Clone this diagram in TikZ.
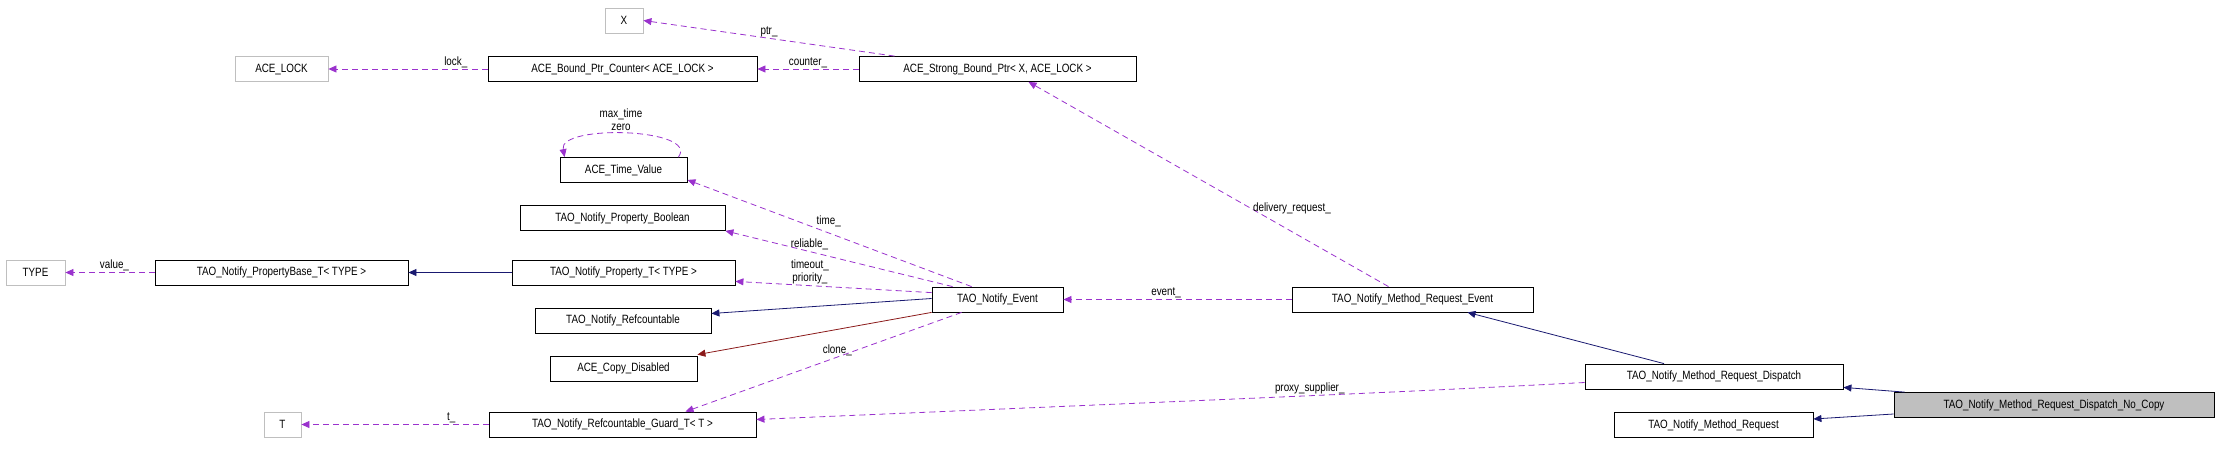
\documentclass[tikz,border=0pt]{standalone}
\usepackage{fontspec}
\setmainfont[FakeStretch=0.82]{Liberation Sans}
\usetikzlibrary{arrows.meta,calc}
\begin{document}
\begin{tikzpicture}[x=1pt,y=-1pt,
  every node/.style={font=\fontsize{12}{13}\selectfont},
  box/.style={draw=black,line width=0.8pt,inner sep=0pt,minimum height=25pt},
  gbox/.style={box,draw=black!25},
  mem/.style={draw={rgb,255:red,154;green,50;blue,205},dashed,dash pattern=on 6pt off 4pt,line width=0.8pt,-{Triangle[length=8pt,width=7pt]}},
  inh/.style={draw={rgb,255:red,25;green,25;blue,112},line width=0.8pt,-{Triangle[length=8pt,width=7pt]}},
  priv/.style={draw={rgb,255:red,139;green,26;blue,26},line width=0.8pt,-{Triangle[length=8pt,width=7pt]}},
  lbl/.style={inner sep=1pt,align=center}]
\useasboundingbox (0,0) rectangle (2216,461);
\node[gbox,minimum width=38pt] (X) at (624,20.5) {X};
\node[gbox,minimum width=93pt] (LOCK) at (281.5,69) {ACE\_LOCK};
\node[box,minimum width=269pt] (Counter) at (622.5,69) {ACE\_Bound\_Ptr\_Counter< ACE\_LOCK >};
\node[box,minimum width=277pt] (Strong) at (997.5,69) {ACE\_Strong\_Bound\_Ptr< X, ACE\_LOCK >};
\node[box,minimum width=127pt] (TV) at (623.5,170) {ACE\_Time\_Value};
\node[box,minimum width=205pt] (Bool) at (622.5,218) {TAO\_Notify\_Property\_Boolean};
\node[gbox,minimum width=59pt] (TYPE) at (35.5,272.5) {TYPE};
\node[box,minimum width=253pt] (PB) at (281.5,272.5) {TAO\_Notify\_PropertyBase\_T< TYPE >};
\node[box,minimum width=223pt] (PT) at (623.5,272.5) {TAO\_Notify\_Property\_T< TYPE >};
\node[box,minimum width=131pt] (Event) at (997.5,299.5) {TAO\_Notify\_Event};
\node[box,minimum width=176pt] (Ref) at (623,320.5) {TAO\_Notify\_Refcountable};
\node[box,minimum width=147pt] (Copy) at (623.5,368.5) {ACE\_Copy\_Disabled};
\node[gbox,minimum width=37pt] (T) at (282.5,424.5) {T};
\node[box,minimum width=267pt] (Guard) at (622.5,424.5) {TAO\_Notify\_Refcountable\_Guard\_T< T >};
\node[box,minimum width=241pt] (MRE) at (1412.5,299.5) {TAO\_Notify\_Method\_Request\_Event};
\node[box,minimum width=258pt] (Disp) at (1714,376.5) {TAO\_Notify\_Method\_Request\_Dispatch};
\node[box,minimum width=320pt,fill=black!25] (NoCopy) at (2054,405) {TAO\_Notify\_Method\_Request\_Dispatch\_No\_Copy};
\node[box,minimum width=199pt] (MR) at (1713.5,425) {TAO\_Notify\_Method\_Request};

\draw[mem] ($(Strong.north west)+(36,0)$) -- (X.east) node[lbl,pos=0.5,above] {ptr\_};
\draw[mem] (Strong.west) -- (Counter.east) node[lbl,pos=0.5,above] {counter\_};
\draw[mem] (Counter.west) -- (LOCK.east) node[lbl,pos=0.2,above] {lock\_};
\draw[mem] ($(TV.north east)+(-9,0)$) .. controls (700,128) and (558,124) .. ($(TV.north west)+(5,0)$);
\node[lbl] (tvl) at (621,120) {max\_time\\zero};
\draw[mem] ($(Event.north west)+(40,0)$) -- ($(TV.south east)+(0,-3)$) node[lbl,pos=0.55,above right] {time\_};
\draw[mem] ($(Event.north west)+(21,0)$) -- ($(Bool.south east)+(0,0)$) node[lbl,pos=0.63,above] {reliable\_};
\draw[mem] ($(Event.north west)+(0,6)$) -- ($(PT.south east)+(0,-4)$) node[lbl,pos=0.62,above] {timeout\_\\priority\_};
\draw[inh] ($(Event.west)+(0,-1)$) -- ($(Ref.east)+(0,-7)$);
\draw[priv] (Event.south west) -- ($(Copy.north east)+(0,-1)$);
\draw[mem] ($(Event.south west)+(30,0)$) -- ($(Guard.north)+(63,0)$) node[lbl,pos=0.45,above] {clone\_};
\draw[inh] (PT.west) -- (PB.east);
\draw[mem] (PB.west) -- (TYPE.east) node[lbl,pos=0.45,above] {value\_};
\draw[mem] (Guard.west) -- (T.east) node[lbl,pos=0.2,above] {t\_};
\draw[mem] (MRE.west) -- (Event.east) node[lbl,pos=0.55,above] {event\_};
\draw[mem] ($(MRE.north)+(-24,0)$) -- ($(Strong.south)+(31,0)$) node[lbl,pos=0.38,right] {delivery\_request\_};
\draw[inh] ($(Disp.north)+(-50,0)$) -- ($(MRE.south)+(55,0)$);
\draw[mem] ($(Disp.west)+(0,6)$) .. controls (1400,392) .. ($(Guard.east)+(0,-5)$) node[lbl,pos=0.55,above] {proxy\_supplier\_};
\draw[inh] ($(NoCopy.north west)+(11,0)$) -- ($(Disp.south east)+(0,-2)$);
\draw[inh] ($(NoCopy.west)+(0,9)$) -- ($(MR.east)+(0,-6)$);
\end{tikzpicture}
\end{document}
